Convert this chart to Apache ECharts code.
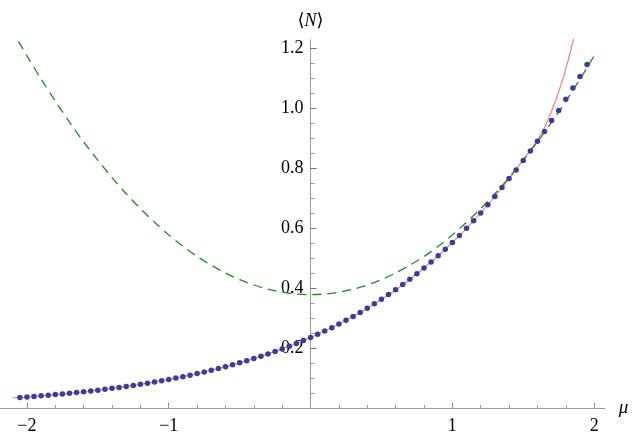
<!DOCTYPE html>
<html>
<head>
<meta charset="utf-8">
<script src="https://cdn.jsdelivr.net/npm/echarts@6/dist/echarts.min.js"></script>
<style>
html,body{margin:0;padding:0;background:#fff;}
#chart{width:634px;height:436px;}
</style>
</head>
<body>
<div id="chart"></div>
<script>
// ---- data ----
const muDots = [-2.05,-2,-1.95,-1.9,-1.85,-1.8,-1.75,-1.7,-1.65,-1.6,-1.55,-1.5,-1.45,-1.4,-1.35,-1.3,-1.25,-1.2,-1.15,-1.1,-1.05,-1,-0.95,-0.9,-0.85,-0.8,-0.75,-0.7,-0.65,-0.6,-0.55,-0.5,-0.45,-0.4,-0.35,-0.3,-0.25,-0.2,-0.15,-0.1,-0.05,0,0.05,0.1,0.15,0.2,0.25,0.3,0.35,0.4,0.45,0.5,0.55,0.6,0.65,0.7,0.75,0.8,0.85,0.9,0.95,1,1.05,1.1,1.15,1.2,1.25,1.3,1.35,1.4,1.45,1.5,1.55,1.6,1.65,1.7,1.75,1.8,1.85,1.9,1.95];
const nDots = [0.035,0.0367,0.0386,0.0405,0.0425,0.0447,0.0468,0.0491,0.0516,0.0541,0.0568,0.0595,0.0624,0.0655,0.0686,0.0719,0.0754,0.079,0.0828,0.0868,0.0909,0.0953,0.0998,0.1045,0.1094,0.1146,0.1199,0.1255,0.1314,0.1375,0.1439,0.1506,0.1575,0.1648,0.1723,0.1802,0.1884,0.197,0.2059,0.2152,0.2249,0.235,0.2455,0.2565,0.2679,0.2798,0.2922,0.3051,0.3186,0.3325,0.3471,0.3623,0.378,0.3944,0.4115,0.4292,0.4477,0.4669,0.4868,0.5075,0.5291,0.5515,0.5747,0.5989,0.6241,0.6502,0.6773,0.7054,0.7346,0.7649,0.793,0.825,0.857,0.889,0.922,0.958,0.992,1.029,1.067,1.105,1.145];

const muRed = [-2.1,-2,-1.9,-1.8,-1.7,-1.6,-1.5,-1.4,-1.3,-1.2,-1.1,-1,-0.9,-0.8,-0.7,-0.6,-0.5,-0.4,-0.3,-0.2,-0.1,0,0.1,0.2,0.3,0.4,0.5,0.6,0.7,0.8,0.9,1,1.1,1.2,1.3,1.4,1.5,1.6,1.65,1.7,1.75,1.8,1.855];
const nRed = [0.0335,0.0367,0.0405,0.0447,0.0491,0.0541,0.0595,0.0655,0.0719,0.079,0.0868,0.0953,0.1045,0.1146,0.1255,0.1375,0.1506,0.1648,0.1802,0.197,0.2152,0.235,0.2565,0.2798,0.3051,0.3325,0.3623,0.3944,0.4292,0.4669,0.5075,0.5515,0.5989,0.6502,0.7054,0.7649,0.827,0.893,0.935,0.99,1.055,1.13,1.23];

const muGreen = [-2.06,-2,-1.9,-1.8,-1.7,-1.6,-1.5,-1.4,-1.3,-1.2,-1.1,-1,-0.9,-0.8,-0.7,-0.6,-0.5,-0.4,-0.3,-0.2,-0.1,0,0.1,0.2,0.3,0.4,0.5,0.6,0.7,0.8,0.9,1,1.1,1.2,1.3,1.4,1.5,1.6,1.7,1.8,1.9,2];
const nGreen = [1.222,1.174,1.096,1.023,0.953,0.887,0.826,0.768,0.714,0.665,0.619,0.577,0.539,0.505,0.476,0.45,0.428,0.41,0.396,0.386,0.38,0.378,0.38,0.386,0.396,0.41,0.428,0.45,0.476,0.505,0.539,0.577,0.619,0.665,0.714,0.768,0.826,0.887,0.953,1.023,1.096,1.174];

const xMajorTicks = [-2,-1,1,2];
const xTickLabels = ['\u22122','\u22121','1','2'];
const xMinorTicks = [-2,-1.8,-1.6,-1.4,-1.2,-1,-0.8,-0.6,-0.4,-0.2,0.2,0.4,0.6,0.8,1,1.2,1.4,1.6,1.8,2];
const yMajorTicks = [0.2,0.4,0.6,0.8,1.0,1.2];
const yTickLabels = ['0.2','0.4','0.6','0.8','1.0','1.2'];
const yMinorTicks = [0.05,0.1,0.15,0.25,0.3,0.35,0.45,0.5,0.55,0.65,0.7,0.75,0.85,0.9,0.95,1.05,1.1,1.15];

// ---- chart ----
const zip = (a, b) => a.map((v, i) => [v, b[i]]);
const FONT = '"Liberation Serif", "Times New Roman", "DejaVu Serif", serif';
const axisGray = '#9a9a9a';
const X_MIN = -2.19, X_MAX = 2.075, GRID_W = 604.8;
const ZERO_OFFSET = -GRID_W * (0 - X_MIN) / (X_MAX - X_MIN);

const chart = echarts.init(document.getElementById('chart'), null, {renderer: 'canvas'});
const xBase = {
  type: 'value', min: X_MIN, max: X_MAX, position: 'bottom',
  splitLine: {show: false},
  axisLine: {onZero: false, lineStyle: {color: axisGray, width: 1}}
};
const yBase = {
  type: 'value', min: 0, max: 1.227, position: 'left', offset: ZERO_OFFSET,
  splitLine: {show: false}
};
const yLabelOf = v => {
  const i = yMajorTicks.findIndex(t => Math.abs(t - v) < 1e-6);
  return i >= 0 ? yTickLabels[i] : '';
};
const labelFont = {fontFamily: FONT, fontSize: 18, color: '#000'};
chart.setOption({
  animation: false,
  backgroundColor: '#ffffff',
  textStyle: {fontFamily: FONT},
  grid: {left: 0, width: GRID_W, top: 39.9, height: 368.1, containLabel: false, outerBoundsMode: 'none'},
  xAxis: [
    Object.assign({}, xBase, {
      name: 'μ', nameLocation: 'end', nameGap: 14,
      nameTextStyle: {fontFamily: FONT, fontSize: 19, fontStyle: 'italic', color: '#000', verticalAlign: 'middle'},
      axisTick: {show: true, inside: true, length: 5, customValues: xMajorTicks, lineStyle: {color: '#777'}},
      axisLabel: Object.assign({show: true, customValues: xMajorTicks, margin: 9, hideOverlap: false,
        formatter: v => xTickLabels[xMajorTicks.indexOf(v)] || ''}, labelFont)
    }),
    Object.assign({}, xBase, {
      axisLine: {show: false, onZero: false},
      axisTick: {show: true, inside: true, length: 3, customValues: xMinorTicks, lineStyle: {color: axisGray}},
      axisLabel: {show: false}
    })
  ],
  yAxis: [
    Object.assign({}, yBase, {
      axisLine: {show: true, onZero: false, lineStyle: {color: axisGray, width: 1}},
      name: '{a|⟨}{n|N}{a|⟩}', nameLocation: 'end', nameGap: 10,
      nameTextStyle: {align: 'center', rich: {
        a: {fontFamily: FONT, fontSize: 18, color: '#000'},
        n: {fontFamily: FONT, fontSize: 18, fontStyle: 'italic', color: '#000'}
      }},
      axisTick: {show: true, inside: true, length: 6, customValues: yMajorTicks, lineStyle: {color: '#777'}},
      axisLabel: Object.assign({show: true, customValues: yMajorTicks, margin: 7, hideOverlap: false,
        padding: [3, 0, 0, 0], formatter: yLabelOf}, labelFont)
    }),
    Object.assign({}, yBase, {
      axisLine: {show: false, onZero: false},
      axisTick: {show: true, inside: true, length: 4, customValues: yMinorTicks, lineStyle: {color: axisGray}},
      axisLabel: {show: false}
    })
  ],
  series: [
    {
      type: 'line', data: zip(muRed, nRed), xAxisIndex: 0, yAxisIndex: 0,
      showSymbol: false, symbol: 'none', smooth: 0.3, clip: false,
      lineStyle: {color: '#ff7f7f', width: 1.2}, z: 2
    },
    {
      type: 'line', data: zip(muGreen, nGreen), xAxisIndex: 0, yAxisIndex: 0,
      showSymbol: false, symbol: 'none', smooth: 0.3, clip: false,
      lineStyle: {color: '#258a25', width: 1.3, type: [9, 6]}, z: 3
    },
    {
      type: 'scatter', data: zip(muDots, nDots), xAxisIndex: 0, yAxisIndex: 0,
      symbol: 'circle', symbolSize: 5.5,
      itemStyle: {color: '#3c3c9c', opacity: 1}, z: 4
    }
  ]
});
</script>
</body>
</html>
